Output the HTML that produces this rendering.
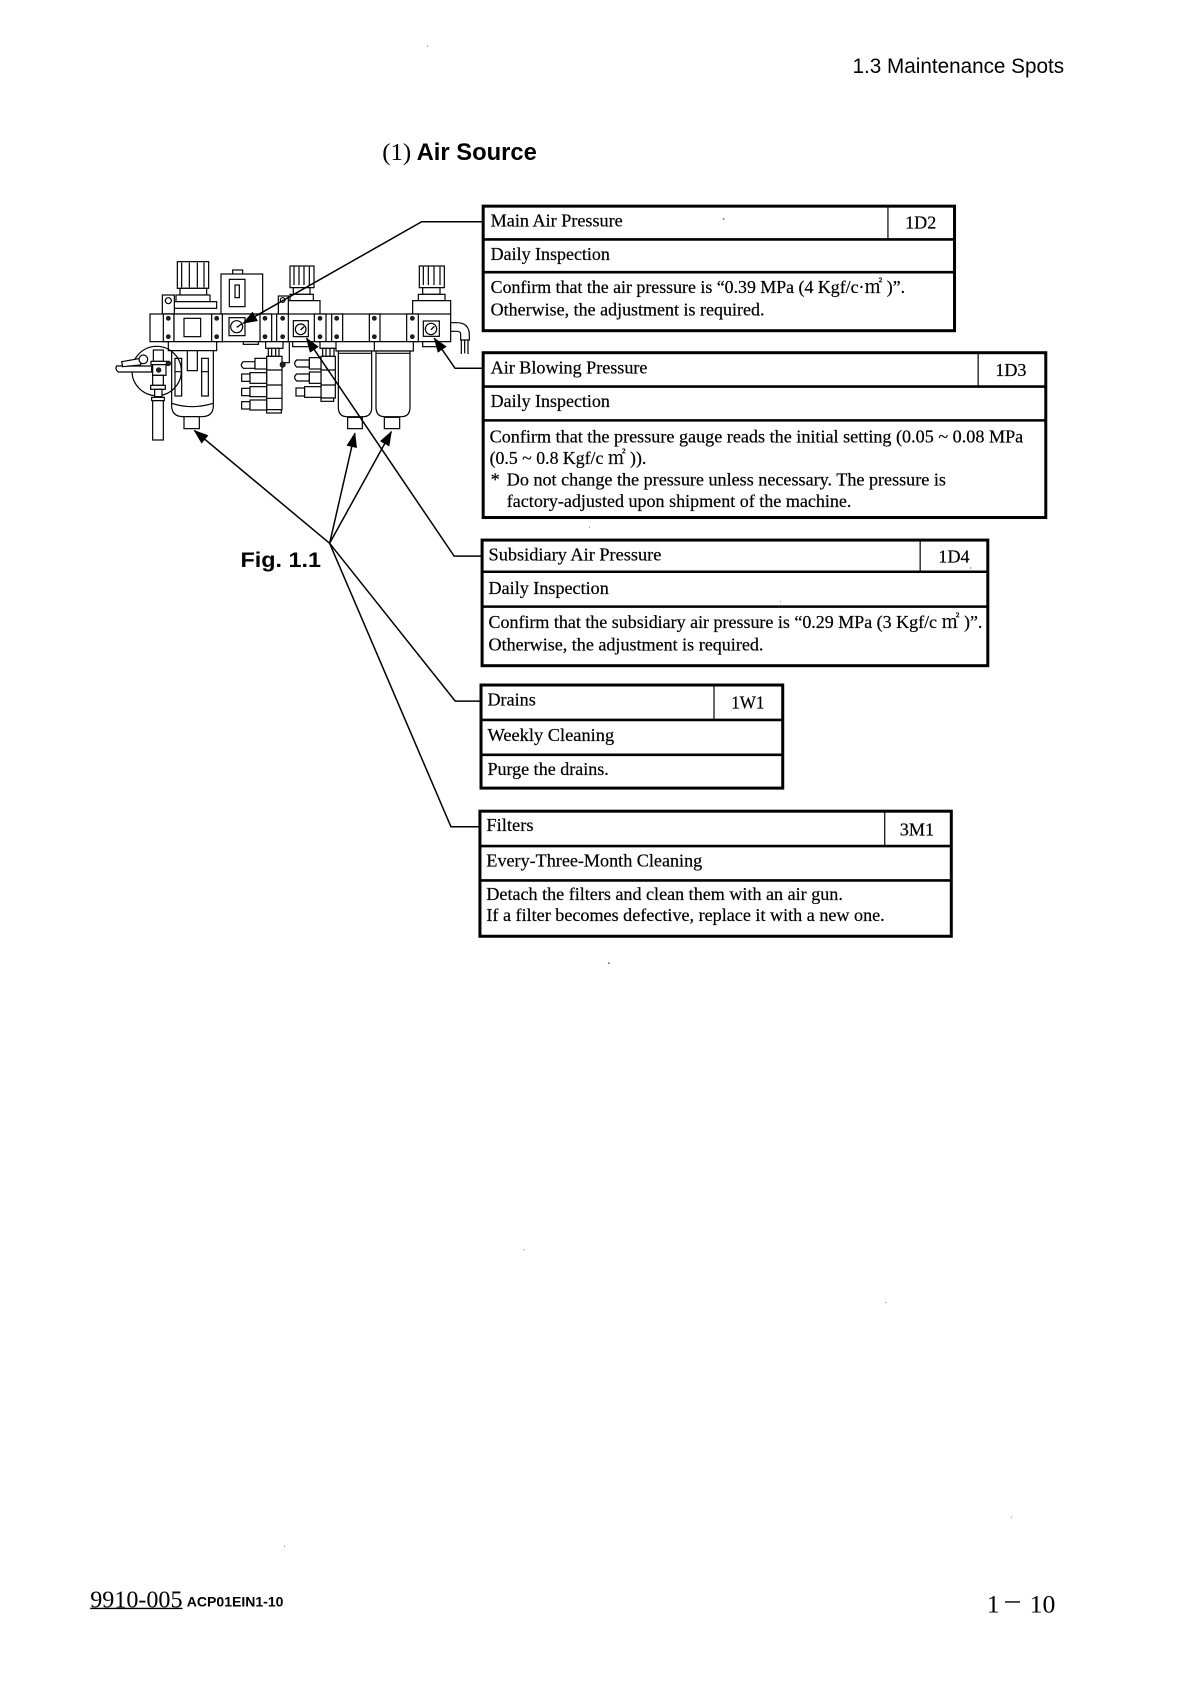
<!DOCTYPE html>
<html><head><meta charset="utf-8"><title>1.3 Maintenance Spots</title>
<style>
html,body{margin:0;padding:0;background:#fff}
svg{display:block}
.t{font-family:"Liberation Serif","Noto Serif CJK JP",serif;font-size:17px;fill:#000;stroke:#000;stroke-width:.2}
.s{font-family:"Liberation Sans",sans-serif;fill:#000}
.d *{fill:#fff;stroke:#000;stroke-width:3.600}
.d .n{fill:none}
.d .k{fill:#222;stroke:#000;stroke-width:2}
.c{fill:none;stroke:#000;stroke-width:1.4}
.b{fill:#fff;stroke:#000;stroke-width:2.8}
.r{stroke:#000;stroke-width:2.4}
.v{stroke:#000;stroke-width:1.1}
</style></head><body>
<svg width="1187" height="1684" viewBox="0 0 1187 1684" xmlns="http://www.w3.org/2000/svg">
<defs><marker id="a" markerWidth="14" markerHeight="10" refX="13" refY="5" orient="auto" markerUnits="userSpaceOnUse"><path d="M0 0L14 5L0 10Z" fill="#000"/></marker></defs>
<rect width="1187" height="1684" fill="#fff"/>

<!-- Pneumatic unit, zoom coordinates -->
<g class="d" transform="translate(100,190) scale(.33333)">
<!-- left regulator -->
<rect x="232" y="215" width="94" height="80"/><path class="n" d="M245 218V292M268 218V292M292 218V292M312 218V292"/>
<rect x="240" y="295" width="80" height="20"/><rect x="228" y="315" width="102" height="20"/><rect x="210" y="335" width="140" height="20"/>
<rect x="187" y="315" width="36" height="57"/><circle cx="205" cy="332" r="9"/>
<!-- solenoid -->
<rect x="398" y="240" width="30" height="14"/><rect x="363" y="252" width="125" height="120"/><rect x="388" y="268" width="47" height="82"/><rect x="405" y="285" width="13" height="38"/>
<!-- regulators 2, 3 -->
<rect x="570" y="228" width="72" height="65"/><path class="n" d="M582 230V285M597 230V285M612 230V285M628 230V285"/><rect x="580" y="293" width="50" height="20"/><rect x="570" y="313" width="70" height="19"/><rect x="552" y="332" width="108" height="42"/>
<rect x="958" y="228" width="75" height="65"/><path class="n" d="M970 230V285M985 230V285M1002 230V285M1020 230V285"/><rect x="968" y="293" width="52" height="20"/><rect x="955" y="313" width="80" height="19"/><rect x="938" y="332" width="114" height="42"/>
<rect x="535" y="318" width="30" height="54"/><circle cx="548" cy="330" r="7"/>
<!-- manifold rail -->
<rect x="150" y="372" width="902" height="83"/>
<rect x="190" y="372" width="32" height="83"/><rect x="222" y="372" width="113" height="83"/><rect x="252" y="385" width="50" height="55"/><rect x="335" y="372" width="32" height="83"/><rect x="480" y="372" width="35" height="83"/><rect x="530" y="372" width="35" height="83"/><rect x="643" y="372" width="35" height="83"/><rect x="695" y="372" width="33" height="83"/><rect x="808" y="372" width="32" height="83"/><rect x="920" y="372" width="35" height="83"/>
<rect x="387" y="383" width="48" height="54"/><circle cx="410" cy="410" r="18"/>
<rect x="580" y="392" width="45" height="48"/><circle cx="602" cy="418" r="16"/>
<rect x="970" y="393" width="48" height="46"/><circle cx="993" cy="417" r="17"/>
<circle class="k" cx="205" cy="385" r="6"/><circle class="k" cx="205" cy="440" r="6"/><circle class="k" cx="350" cy="385" r="6"/><circle class="k" cx="350" cy="440" r="6"/><circle class="k" cx="495" cy="385" r="6"/><circle class="k" cx="495" cy="440" r="6"/><circle class="k" cx="548" cy="385" r="6"/><circle class="k" cx="548" cy="440" r="6"/><circle class="k" cx="660" cy="385" r="6"/><circle class="k" cx="660" cy="440" r="6"/><circle class="k" cx="710" cy="385" r="6"/><circle class="k" cx="710" cy="440" r="6"/><circle class="k" cx="823" cy="385" r="6"/><circle class="k" cx="823" cy="440" r="6"/><circle class="k" cx="937" cy="385" r="6"/><circle class="k" cx="937" cy="440" r="6"/>
<rect x="430" y="455" width="45" height="8"/><rect x="578" y="455" width="55" height="15"/><rect x="968" y="455" width="50" height="15"/>
<!-- right elbow -->
<path d="M1052 398H1070Q1108 398 1108 435V450H1082V432Q1082 424 1070 424H1052Z"/><path class="n" d="M1084 450V492M1104 450V492M1094 450V490"/>
<!-- left bowl -->
<rect x="205" y="455" width="145" height="27"/>
<path d="M215 482H340V650Q338 680 305 680H250Q217 680 215 650Z"/><path class="n" d="M215 640Q275 660 340 640"/>
<rect x="262" y="482" width="30" height="60"/><rect x="225" y="505" width="20" height="113"/><rect x="305" y="505" width="20" height="113"/><path class="n" d="M225 545H245M305 545H325"/>
<rect x="252" y="680" width="46" height="36"/>
<!-- valve -->
<circle class="n" cx="170" cy="543" r="74"/>
<path d="M50 528H155V546H55Q44 537 50 528Z"/><path d="M65 515L122 505V525L68 530Z"/><circle cx="130" cy="508" r="13"/>
<rect x="160" y="480" width="30" height="34"/><rect x="153" y="514" width="48" height="10"/><rect x="158" y="524" width="40" height="32"/><circle class="k" cx="176" cy="540" r="7"/><circle class="k" cx="205" cy="520" r="7"/><rect x="158" y="556" width="32" height="30"/><rect x="152" y="586" width="44" height="12"/><rect x="164" y="598" width="22" height="22"/><rect x="155" y="622" width="38" height="10"/><rect x="158" y="632" width="32" height="118"/>
<!-- manifold A -->
<path class="n" d="M568 455V518H552"/>
<rect x="497" y="455" width="52" height="20"/><rect x="505" y="475" width="32" height="24"/><path class="n" d="M515 477V497M527 477V497"/>
<rect x="500" y="499" width="46" height="160"/><path class="n" d="M500 540H546M500 585H546M500 625H546"/><circle class="k" cx="548" cy="524" r="8"/>
<path d="M465 515H430Q418 525 430 535H465Z"/><rect x="465" y="505" width="35" height="32"/>
<rect x="425" y="552" width="25" height="22"/><rect x="450" y="548" width="50" height="32"/>
<rect x="425" y="595" width="25" height="22"/><rect x="450" y="590" width="50" height="30"/>
<rect x="425" y="635" width="25" height="22"/><rect x="450" y="630" width="50" height="30"/>
<rect x="500" y="659" width="44" height="10"/>
<!-- manifold B -->
<rect x="660" y="455" width="50" height="20"/><rect x="668" y="475" width="34" height="24"/><path class="n" d="M678 477V497M690 477V497"/>
<rect x="663" y="499" width="43" height="125"/><path class="n" d="M663 540H706M663 585H706"/><rect x="663" y="624" width="38" height="10"/>
<path d="M628 510H590Q578 520 590 531H628Z"/><rect x="628" y="503" width="35" height="34"/>
<path d="M628 552H590Q578 562 590 573H628Z"/><rect x="628" y="546" width="35" height="34"/>
<rect x="588" y="594" width="26" height="24"/><rect x="614" y="590" width="49" height="32"/>
<!-- filter bowls -->
<rect x="708" y="455" width="232" height="28"/><path class="n" d="M823 455V483"/>
<path d="M715 483H815V655Q813 680 790 680H740Q717 680 715 655Z"/>
<path d="M828 483H930V655Q928 680 905 680H853Q830 680 828 655Z"/>
<path class="n" d="M715 490H815M828 490H930"/>
<rect x="743" y="682" width="44" height="34"/><rect x="853" y="682" width="46" height="34"/>
<path class="n" d="M410 412L425 402M602 420L612 410M993 419L1003 409" style="stroke-width:4"/>
</g>

<!-- Connectors and boxes, preview coordinates -->
<g transform="scale(1.0737)">
<g class="c">
<polyline points="449,206.500 392.700,206.500 226.500,301" marker-end="url(#a)"/>
<polyline points="449,343 423.800,343 404.500,315" marker-end="url(#a)"/>
<polyline points="448,518 423,518 285.500,315" marker-end="url(#a)"/>
<line x1="307" y1="506" x2="181" y2="401" marker-end="url(#a)"/>
<line x1="307" y1="506" x2="330.500" y2="403.500" marker-end="url(#a)"/>
<line x1="307" y1="506" x2="364.500" y2="402" marker-end="url(#a)"/>
<polyline points="307,506 424,653 447,653"/>
<polyline points="307,506 420,770 446,770"/>
</g>

<!-- Box 1 -->
<rect class="b" x="450" y="192" width="439" height="116"/>
<line class="r" x1="450" x2="889" y1="223" y2="223"/><line class="r" x1="450" x2="889" y1="253.500" y2="253.500"/><line class="v" x1="827" x2="827" y1="192" y2="223"/>
<text class="t" x="457" y="211" textLength="123" lengthAdjust="spacingAndGlyphs">Main Air Pressure</text>
<text class="t" x="843" y="213" textLength="29" lengthAdjust="spacingAndGlyphs">1D2</text>
<text class="t" x="457" y="242" textLength="111" lengthAdjust="spacingAndGlyphs">Daily Inspection</text>
<text class="t" x="457" y="273" textLength="386" lengthAdjust="spacingAndGlyphs">Confirm that the air pressure is “0.39 MPa (4 Kgf/c·㎡ )”.</text>
<text class="t" x="457" y="294" textLength="255" lengthAdjust="spacingAndGlyphs">Otherwise, the adjustment is required.</text>

<!-- Box 2 -->
<rect class="b" x="450" y="328.500" width="524" height="153.500"/>
<line class="r" x1="450" x2="974" y1="360" y2="360"/><line class="r" x1="450" x2="974" y1="391.500" y2="391.500"/><line class="v" x1="911" x2="911" y1="328" y2="360"/>
<text class="t" x="457" y="348" textLength="146" lengthAdjust="spacingAndGlyphs">Air Blowing Pressure</text>
<text class="t" x="927" y="350" textLength="29" lengthAdjust="spacingAndGlyphs">1D3</text>
<text class="t" x="457" y="379" textLength="111" lengthAdjust="spacingAndGlyphs">Daily Inspection</text>
<text class="t" x="456" y="412" textLength="497" lengthAdjust="spacingAndGlyphs">Confirm that the pressure gauge reads the initial setting (0.05 ~ 0.08 MPa</text>
<text class="t" x="456" y="432" textLength="146" lengthAdjust="spacingAndGlyphs">(0.5 ~ 0.8 Kgf/c ㎡ )).</text>
<text class="t" x="457" y="452">*</text>
<text class="t" x="472" y="452" textLength="409" lengthAdjust="spacingAndGlyphs">Do not change the pressure unless necessary. The pressure is</text>
<text class="t" x="472" y="472" textLength="321" lengthAdjust="spacingAndGlyphs">factory-adjusted upon shipment of the machine.</text>

<!-- Box 3 -->
<rect class="b" x="449" y="503" width="471" height="117"/>
<line class="r" x1="449" x2="920" y1="532.500" y2="532.500"/><line class="r" x1="449" x2="920" y1="565" y2="565"/><line class="v" x1="857" x2="857" y1="503" y2="533"/>
<text class="t" x="455" y="522" textLength="161" lengthAdjust="spacingAndGlyphs">Subsidiary Air Pressure</text>
<text class="t" x="874" y="524" textLength="29" lengthAdjust="spacingAndGlyphs">1D4</text>
<text class="t" x="455" y="553" textLength="112" lengthAdjust="spacingAndGlyphs">Daily Inspection</text>
<text class="t" x="455" y="585" textLength="460" lengthAdjust="spacingAndGlyphs">Confirm that the subsidiary air pressure is “0.29 MPa (3 Kgf/c ㎡ )”.</text>
<text class="t" x="455" y="606" textLength="256" lengthAdjust="spacingAndGlyphs">Otherwise, the adjustment is required.</text>

<!-- Box 4 -->
<rect class="b" x="448" y="638" width="281" height="96"/>
<line class="r" x1="448" x2="729" y1="670.500" y2="670.500"/><line class="r" x1="448" x2="729" y1="703" y2="703"/><line class="v" x1="665" x2="665" y1="638" y2="670"/>
<text class="t" x="454" y="657" textLength="45" lengthAdjust="spacingAndGlyphs">Drains</text>
<text class="t" x="681" y="660" textLength="31" lengthAdjust="spacingAndGlyphs">1W1</text>
<text class="t" x="454" y="690" textLength="118" lengthAdjust="spacingAndGlyphs">Weekly Cleaning</text>
<text class="t" x="454" y="722" textLength="113" lengthAdjust="spacingAndGlyphs">Purge the drains.</text>

<!-- Box 5 -->
<rect class="b" x="447" y="755.500" width="439" height="116.500"/>
<line class="r" x1="447" x2="886" y1="788" y2="788"/><line class="r" x1="447" x2="886" y1="820" y2="820"/><line class="v" x1="824" x2="824" y1="755" y2="788"/>
<text class="t" x="453" y="774" textLength="44" lengthAdjust="spacingAndGlyphs">Filters</text>
<text class="t" x="838" y="778" textLength="32" lengthAdjust="spacingAndGlyphs">3M1</text>
<text class="t" x="453" y="807" textLength="201" lengthAdjust="spacingAndGlyphs">Every-Three-Month Cleaning</text>
<text class="t" x="453" y="838" textLength="332" lengthAdjust="spacingAndGlyphs">Detach the filters and clean them with an air gun.</text>
<text class="t" x="453" y="858" textLength="371" lengthAdjust="spacingAndGlyphs">If a filter becomes defective, replace it with a new one.</text>

<!-- Titles -->
<text class="s" x="794" y="68" font-size="19.500" textLength="197" lengthAdjust="spacingAndGlyphs">1.3 Maintenance Spots</text>
<text class="t" x="356" y="149" style="font-size:23px;stroke-width:0" textLength="27" lengthAdjust="spacingAndGlyphs">(1)</text>
<text class="s" x="388" y="149" font-size="22" font-weight="700" textLength="112" lengthAdjust="spacingAndGlyphs">Air Source</text>
<text class="s" x="224" y="528" font-size="20" font-weight="700" textLength="75" lengthAdjust="spacingAndGlyphs">Fig. 1.1</text>

<!-- Footer -->
<text class="t" x="84" y="1497" style="font-size:23px;stroke-width:0" textLength="86" lengthAdjust="spacingAndGlyphs">9910-005</text>
<line x1="84" x2="170" y1="1498" y2="1498" stroke="#000" stroke-width="1.300"/>
<text class="s" x="174" y="1496" font-size="12.500" font-weight="700" textLength="90" lengthAdjust="spacingAndGlyphs">ACP01EIN1-10</text>
<text class="t" x="919" y="1502" style="font-size:24px;stroke-width:0">1</text>
<line x1="936" x2="950" y1="1492" y2="1492" stroke="#000" stroke-width="1.300"/>
<text class="t" x="959" y="1502" style="font-size:24px;stroke-width:0" textLength="24" lengthAdjust="spacingAndGlyphs">10</text>

<!-- Scan specks -->
<g fill="#555">
<circle cx="674" cy="204" r=".8"/><circle cx="398" cy="43" r=".5"/><circle cx="567" cy="897" r=".8"/><circle cx="549" cy="491" r=".5"/><circle cx="904" cy="529" r=".6"/><circle cx="488" cy="1164" r=".5"/><circle cx="825" cy="1213" r=".5"/><circle cx="265" cy="1440" r=".5"/><circle cx="942" cy="1413" r=".5"/><circle cx="727" cy="560" r=".4"/>
</g>
</g>
</svg>
</body></html>
